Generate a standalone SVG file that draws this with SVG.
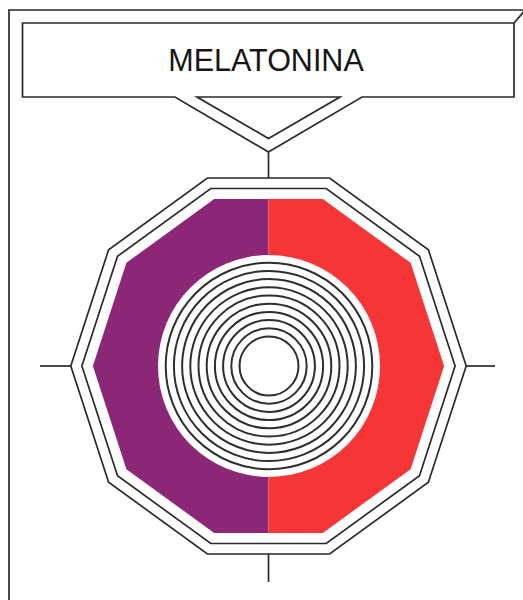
<svg xmlns="http://www.w3.org/2000/svg" width="523" height="600" viewBox="0 0 523 600">
<style>
.ln{fill:none;stroke:#2a2a2a;stroke-width:1.7;stroke-linejoin:miter}
.wf{fill:#fff;stroke:#2a2a2a;stroke-width:1.7}
.ring{fill:none;stroke:#2e2e2e;stroke-width:2}
.title{font-family:"Liberation Sans",Arial,sans-serif;font-size:30.5px;fill:#161616;text-anchor:middle}
</style>
<rect width="523" height="600" fill="#fff"/>
<g id="frame">
<polyline class="ln" points="9,600 9,10 523,10"/>
<line class="ln" x1="514" y1="23" x2="527" y2="8"/>
</g>
<g id="title-node">
<path class="wf" d="M268.5 152 L175 97 L22.5 97 L22.5 23 L514 23 L514 97 L362 97 Z"/>
<path class="wf" d="M197 97 L340 97 L268.5 138.5 Z"/>
<text class="title" x="266" y="70.5">MELATONINA</text>
</g>
<g id="connectors">
<line class="ln" x1="268.5" y1="152" x2="268.5" y2="178"/>
<line class="ln" x1="40" y1="366" x2="71" y2="366"/>
<line class="ln" x1="466" y1="366" x2="495" y2="366"/>
<line class="ln" x1="268.5" y1="554" x2="268.5" y2="582"/>
</g>
<g id="melatonin-node">
<polygon class="wf" points="466.2,366 428.4,249.8 329.6,178 207.4,178 108.6,249.8 70.8,366 108.6,482.2 207.4,554 329.6,554 428.4,482.2"/>
<polygon class="wf" points="455.1,366 419.5,256.3 326.2,188.5 210.8,188.5 117.5,256.3 81.9,366 117.5,475.7 210.8,543.5 326.2,543.5 419.5,475.7"/>
<polygon fill="#8c2777" points="268.5,199 214.2,199 126.4,262.8 92.9,366 126.4,469.2 214.2,533 268.5,533"/>
<polygon fill="#f63636" points="268.5,199 322.8,199 410.6,262.8 444.1,366 410.6,469.2 322.8,533 268.5,533"/>
<circle cx="269" cy="366" r="111" fill="#fff"/>
<g class="ring">
<circle cx="269" cy="366" r="103.3"/>
<circle cx="269" cy="366" r="95.1"/>
<circle cx="269" cy="366" r="86.9"/>
<circle cx="269" cy="366" r="78.7"/>
<circle cx="269" cy="366" r="70.5"/>
<circle cx="269" cy="366" r="62.3"/>
<circle cx="269" cy="366" r="54.1"/>
<circle cx="269" cy="366" r="45.9"/>
<circle cx="269" cy="366" r="37.7"/>
<circle cx="269" cy="366" r="29.5"/>
</g>
</g>
</svg>
